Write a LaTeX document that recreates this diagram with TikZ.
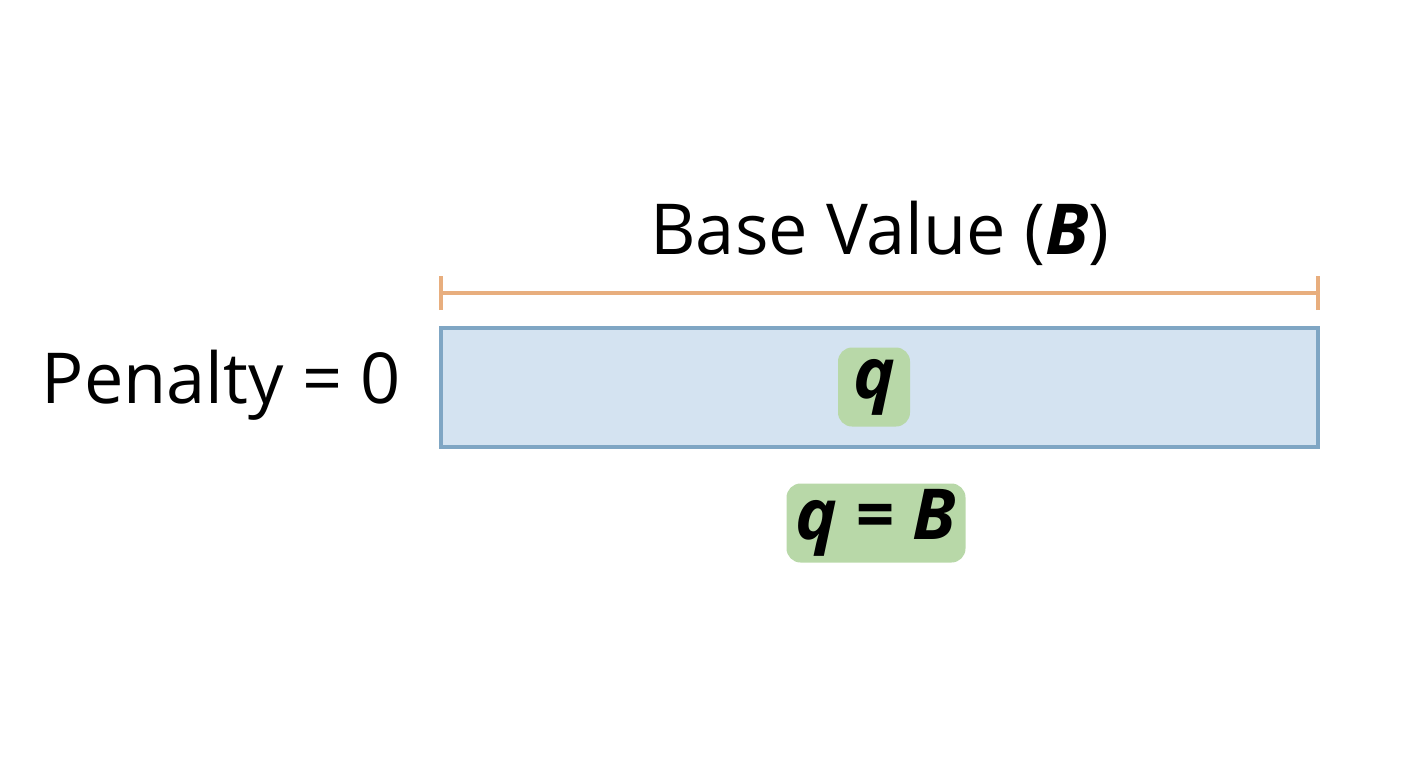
\documentclass[tikz,border=0pt]{standalone}
\usepackage{fontspec}
\setmainfont{Open Sans}
\usetikzlibrary{positioning}
\definecolor{barfill}{HTML}{D4E3F1}
\definecolor{bardraw}{HTML}{7FA6C4}
\definecolor{dimline}{HTML}{E8AE7E}
\definecolor{badge}{HTML}{B8D8A8}
\begin{document}
\begin{tikzpicture}[x=0.02cm,y=-0.02cm,bar/.style={draw=bardraw,fill=barfill,line width=1.8pt},dim/.style={draw=dimline,line width=1.8pt},label/.style={font=\fontsize{40}{48}\selectfont},badgeq/.style={fill=badge,rounded corners=8pt,font=\fontsize{40}{48}\selectfont\bfseries\itshape,inner sep=0pt}]
\useasboundingbox (0,0) rectangle (1408,768);

\draw[bar] (441,328) rectangle (1318,447);

\coordinate (L) at (441,293);
\coordinate (R) at (1318,293);
\draw[dim] (L) -- (R);
\draw[dim] ([yshift=-17*0.02cm]L) -- ([yshift=17*0.02cm]L);
\draw[dim] ([yshift=-17*0.02cm]R) -- ([yshift=17*0.02cm]R);

\node[label] (base) at (880,233) {Base Value (\textbf{\textit{B}})};
\node[label,anchor=east] (pen) at (407,385) {Penalty = 0};

\node[badgeq,minimum width=72*0.02cm,minimum height=79*0.02cm] (q) at (874,387) {q};
\node[badgeq,minimum width=179*0.02cm,minimum height=79*0.02cm] (qb) at (876,523) {q = B};
\end{tikzpicture}
\end{document}
